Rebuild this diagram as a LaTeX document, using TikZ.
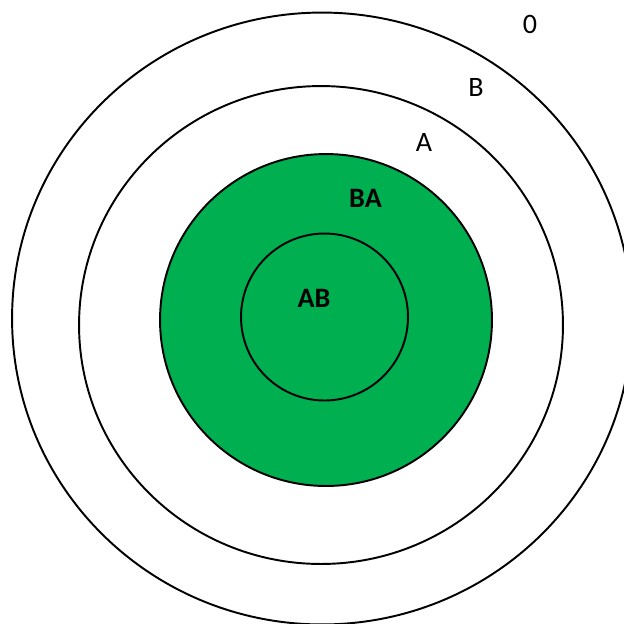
\documentclass[tikz,border=0pt]{standalone}
\usepackage{fontspec}
\setmainfont{Carlito}
\definecolor{ringgreen}{HTML}{00B050}

\begin{document}
\begin{tikzpicture}[
	x=0.02cm, y=-0.02cm,
	ring/.style={ draw=black, line width=1.1pt },
	lbl/.style={ inner sep=0pt, font=\fontsize{16}{19}\selectfont },
	lblb/.style={ inner sep=0pt, font=\fontsize{16}{19}\selectfont\bfseries }
]

\useasboundingbox (0,0) rectangle (624,623);

\draw[ring] (322,318.5) ellipse [x radius=6.2cm, y radius=6.12cm];
\draw[ring] (321,325) ellipse [x radius=4.84cm, y radius=4.78cm];
\draw[ring,fill=ringgreen] (326,320) circle (3.32cm);
\draw[ring] (324.5,317) circle (1.67cm);

\node at (530,24.5) (zero) [lbl] {0};
\node at (476,87.5) (b) [lbl] {B};
\node at (424,142.5) (a) [lbl] {A};
\node at (365.5,198) (ba) [lblb] {BA};
\node at (314,298.5) (ab) [lblb] {AB};

\end{tikzpicture}
\end{document}
